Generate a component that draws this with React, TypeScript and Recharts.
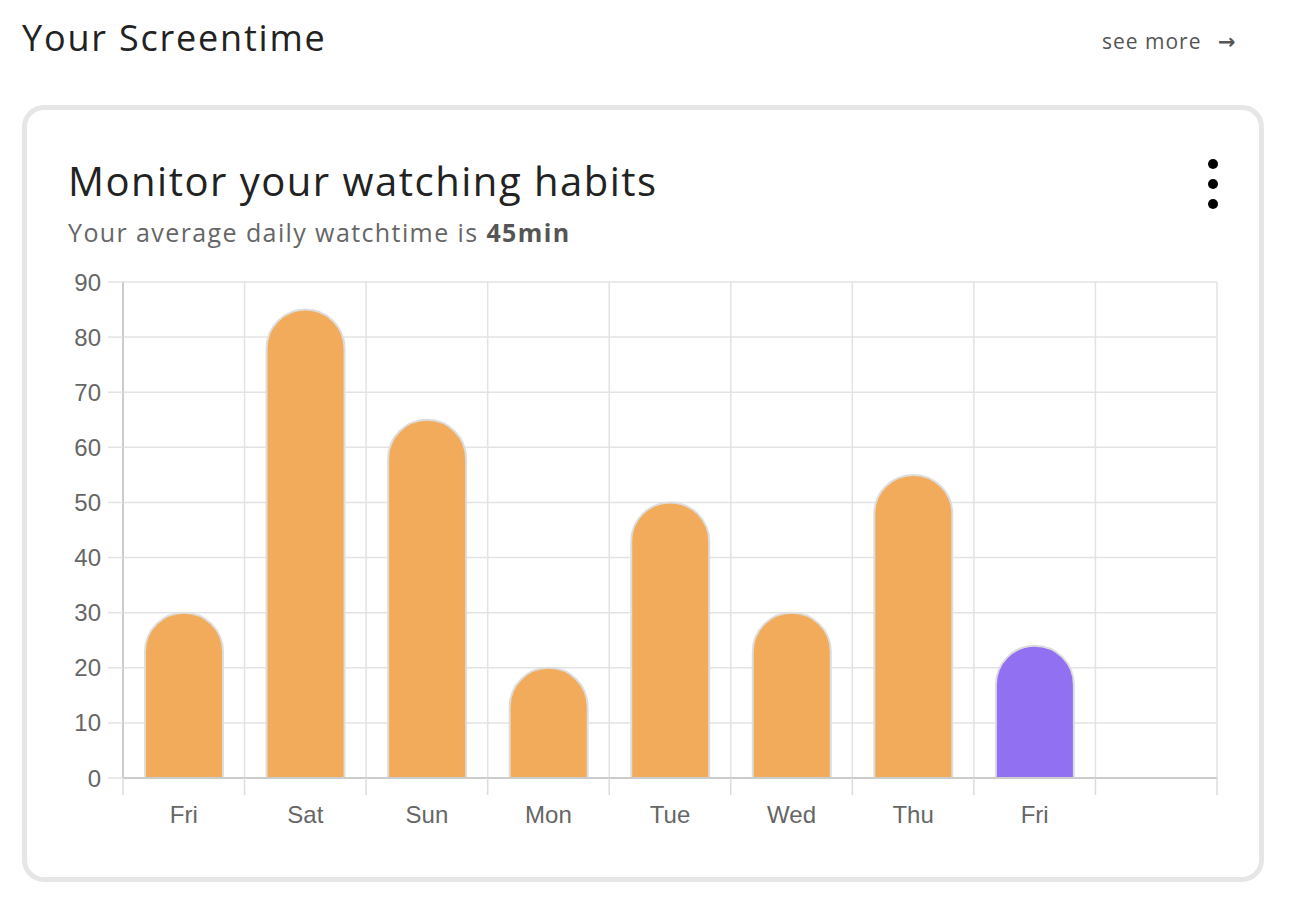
import React from "react";
import { BarChart, Bar, XAxis, YAxis, CartesianGrid, Cell } from "recharts";

const days = ["Fri", "Sat", "Sun", "Mon", "Tue", "Wed", "Thu", "Fri", ""];
const minutes: (number | null)[] = [30, 85, 65, 20, 50, 30, 55, 24, null];
const todayIndex = 7;
const yTicks = [0, 10, 20, 30, 40, 50, 60, 70, 80, 90];

const ORANGE = "#f2ab5a";
const PURPLE = "#9171f2";
const GRID = "#e3e3e3";
const AXIS = "#cccccc";
const HEAD_FONT = "'Open Sans', 'DejaVu Sans', sans-serif";
const TICK_FONT = "'Liberation Sans', Arial, sans-serif";
const LABEL_GAP = 28;

const data = days.map((day, i) => ({ day, minutes: minutes[i] }));

// vertical grid lines sit on the category boundaries, like chart.js
const slotBoundaries = ({ offset }: any) =>
  days.map((_, i) => offset.left + (i * offset.width) / days.length).concat(offset.left + offset.width);

// label plus a tick mark on the left edge of each band (and the right edge of the last)
const DayTick = (props: any) => {
  const { x, y, payload, index, visibleTicksCount } = props;
  const half = payload.offset ?? 0;
  const axisY = y - LABEL_GAP;
  const mark = (mx: number) => (
    <line x1={mx} x2={mx} y1={axisY} y2={axisY + 17} stroke="#dcdcdc" strokeWidth={1.5} />
  );
  return (
    <g>
      {mark(x - half)}
      {index === visibleTicksCount - 1 && mark(x + half)}
      <text x={x} y={y} dy="0.71em" textAnchor="middle" fill="#666" fontSize={24} fontFamily={TICK_FONT}>
        {payload.value}
      </text>
    </g>
  );
};

export default function App() {
  return (
    <div
      style={{
        position: "absolute",
        left: 0,
        top: 0,
        width: 1294,
        height: 916,
        background: "#fff",
        fontFamily: HEAD_FONT,
      }}
    >
      <div style={{ position: "absolute", left: 22, top: 14, fontSize: 36, letterSpacing: 1.8, color: "#222", lineHeight: "48px" }}>
        Your Screentime
      </div>
      <div style={{ position: "absolute", left: 1102, top: 27, fontSize: 21, letterSpacing: 1, color: "#555", lineHeight: "28px" }}>
        see more <span style={{ marginLeft: 10, fontWeight: 700 }}>→</span>
      </div>

      <div
        style={{
          position: "absolute",
          left: 22,
          top: 105,
          width: 1232,
          height: 767,
          border: "5px solid #e6e6e6",
          borderRadius: 22,
        }}
      />

      <div style={{ position: "absolute", left: 68, top: 154, fontSize: 40, letterSpacing: 1.5, color: "#222", lineHeight: "54px" }}>
        Monitor your watching habits
      </div>
      <div style={{ position: "absolute", left: 68, top: 215, fontSize: 25, letterSpacing: 1.4, color: "#666", lineHeight: "34px" }}>
        Your average daily watchtime is <b style={{ color: "#555" }}>45min</b>
      </div>

      {[164, 184, 204].map((y) => (
        <div
          key={y}
          style={{
            position: "absolute",
            left: 1208,
            top: y - 5,
            width: 10,
            height: 10,
            borderRadius: 5,
            background: "#000",
          }}
        />
      ))}

      <div style={{ position: "absolute", left: 40, top: 260 }}>
        <BarChart
          width={1200}
          height={600}
          data={data}
          margin={{ top: 22, right: 23, bottom: 32, left: 23 }}
        >
          <CartesianGrid stroke={GRID} strokeWidth={1.5} verticalCoordinatesGenerator={slotBoundaries} />
          <XAxis
            dataKey="day"
            allowDuplicatedCategory
            interval={0}
            axisLine={{ stroke: AXIS, strokeWidth: 2 }}
            tickLine={false}
            tickSize={0}
            tickMargin={LABEL_GAP}
            height={50}
            tick={<DayTick />}
          />
          <YAxis
            domain={[0, 90]}
            ticks={yTicks}
            width={60}
            tickSize={15}
            tickMargin={7}
            tickLine={{ stroke: GRID, strokeWidth: 1.5 }}
            axisLine={{ stroke: AXIS, strokeWidth: 2 }}
            tick={{ fill: "#666", fontSize: 24, fontFamily: TICK_FONT }}
          />
          <Bar
            dataKey="minutes"
            barSize={78}
            radius={[39, 39, 0, 0]}
            stroke="#dddddd"
            strokeWidth={2}
            isAnimationActive={false}
          >
            {data.map((d, i) => (
              <Cell key={i} fill={i === todayIndex ? PURPLE : ORANGE} />
            ))}
          </Bar>
        </BarChart>
      </div>
    </div>
  );
}
